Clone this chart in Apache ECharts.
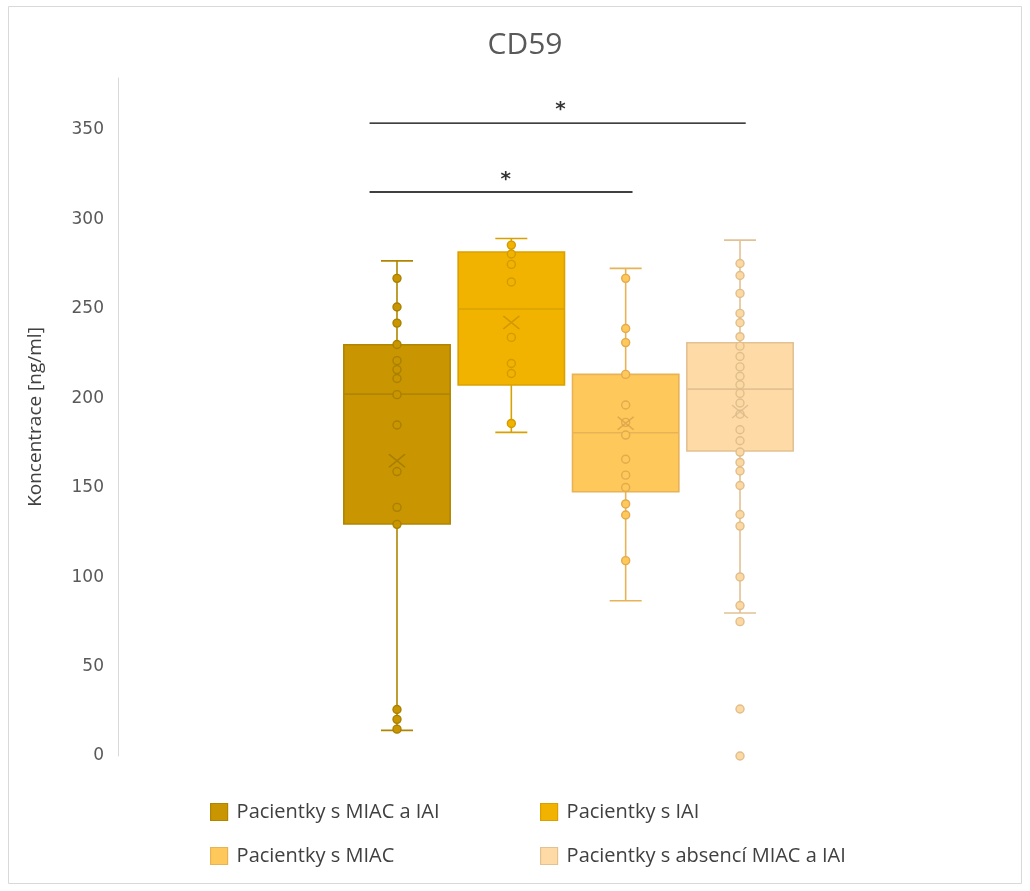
<!DOCTYPE html>
<html>
<head>
<meta charset="utf-8">
<title>CD59</title>
<script src="https://cdn.jsdelivr.net/npm/echarts@6/dist/echarts.min.js"></script>
<style>
  html, body { margin: 0; padding: 0; background: #ffffff; }
  #chart { width: 1030px; height: 891px; }
</style>
</head>
<body>
<div id="chart"></div>
<script>
// Patient groups (one box per group)
const groups = [
  'Pacientky s MIAC a IAI',
  'Pacientky s IAI',
  'Pacientky s MIAC',
  'Pacientky s absencí MIAC a IAI'
];

// Box statistics per group: [lower whisker, Q1, median, Q3, upper whisker]
const statsMiacIai   = [14.3, 129.7, 202.3, 229.9, 276.8];
const statsIai       = [180.9, 207.4, 249.9, 281.7, 289.3];
const statsMiac      = [86.8, 147.7, 180.7, 213.3, 272.6];
const statsAbsence   = [79.9, 170.5, 205.1, 231.0, 288.4];

// Group means (drawn as ×)
const means = [165, 242.3, 186, 192.5];

// Individual measurements per group [ng/ml]
const ptsMiacIai = [267, 251, 242, 230, 221, 216, 211, 202, 185, 159, 139, 129.5, 26, 20.5, 15];
const ptsIai     = [285.6, 280.6, 274.8, 265, 234, 219.4, 213.8, 185.9];
const ptsMiac    = [267, 239, 231.1, 213.3, 196.2, 186.5, 179.4, 165.9, 157, 150.1, 140.9, 134.7, 109.2];
const ptsAbsence = [275.3, 268.6, 258.6, 247.4, 242.2, 234.4, 229.1, 223.3, 217.5, 212.3, 207.5, 202.7,
                    197.3, 191.1, 182.4, 176.2, 169.9, 164.1, 159.3, 151.2, 135, 128.5, 100.1, 84.1,
                    75.1, 26.3, 0];

// Significance brackets: start/end along the group axis, height and label
const bracketFrom   = [-0.24, -0.24];
const bracketTo     = [3.05, 2.06];
const bracketLevel  = [353.8, 315.3];
const bracketStarX  = [1.43, 0.95];
const bracketStarY  = [361, 322];
const bracketLabels = ['*', '*'];

// Value axis ticks
const yMin = 0, yMax = 379, yStep = 50;

const allStats = [statsMiacIai, statsIai, statsMiac, statsAbsence];
const allPts = [ptsMiacIai, ptsIai, ptsMiac, ptsAbsence];

// Palette
const fills   = ['#C99500', '#F2B200', '#FFC85A', '#FEDBA6'];
const strokes = ['#B08500', '#D9A100', '#E8B257', '#E2C193'];
const ptFills = ['#C99500', '#F2B200', '#FFC85A', '#FCD9A2'];
const ptLines = ['#A98000', '#D29B00', '#E3AA4E', '#E0BE8C'];
const xColors = ['#9E7800', '#C99100', '#D8A24C', '#D9B789'];

const BOX_FRAC = 0.93;   // box width as a share of one group step
const CAP_FRAC = 0.28;   // whisker cap width

const series = [];

allStats.forEach((st, k) => {
  series.push({
    name: groups[k],
    type: 'custom',
    z: 2,
    itemStyle: { color: fills[k], borderColor: strokes[k] },
    encode: { x: 0, y: [1, 2, 3, 4, 5] },
    data: [[k].concat(st)],
    renderItem: (params, api) => {
      const x = api.value(0);
      const lo = api.value(1), q1 = api.value(2), med = api.value(3), q3 = api.value(4), hi = api.value(5);
      const unit = api.size([1, 0])[0];
      const bw = unit * BOX_FRAC, cw = unit * CAP_FRAC;
      const pLo = api.coord([x, lo]), pQ1 = api.coord([x, q1]), pMed = api.coord([x, med]);
      const pQ3 = api.coord([x, q3]), pHi = api.coord([x, hi]);
      const cx = pMed[0];
      const lineStyle = { stroke: strokes[k], lineWidth: 1.6 };
      return {
        type: 'group',
        children: [
          { type: 'line', shape: { x1: cx, y1: pHi[1], x2: cx, y2: pQ3[1] }, style: lineStyle },
          { type: 'line', shape: { x1: cx, y1: pQ1[1], x2: cx, y2: pLo[1] }, style: lineStyle },
          { type: 'line', shape: { x1: cx - cw / 2, y1: pHi[1], x2: cx + cw / 2, y2: pHi[1] }, style: lineStyle },
          { type: 'line', shape: { x1: cx - cw / 2, y1: pLo[1], x2: cx + cw / 2, y2: pLo[1] }, style: lineStyle },
          { type: 'rect', shape: { x: cx - bw / 2, y: pQ3[1], width: bw, height: pQ1[1] - pQ3[1] },
            style: { fill: fills[k], stroke: strokes[k], lineWidth: 1.6 } },
          { type: 'line', shape: { x1: cx - bw / 2, y1: pMed[1], x2: cx + bw / 2, y2: pMed[1] }, style: lineStyle }
        ]
      };
    }
  });
});

allPts.forEach((pts, k) => {
  series.push({
    name: groups[k],
    type: 'scatter',
    z: 3,
    symbol: 'circle',
    symbolSize: 8,
    itemStyle: { color: ptFills[k], borderColor: ptLines[k], borderWidth: 1.4, opacity: 1 },
    emphasis: { disabled: true },
    data: pts.map(v => [k, v])
  });
});

means.forEach((m, k) => {
  series.push({
    name: groups[k],
    type: 'scatter',
    z: 4,
    symbol: 'path://M0,0L16,13M16,0L0,13',
    symbolSize: [16, 13],
    itemStyle: { color: 'transparent', borderColor: xColors[k], borderWidth: 1.5 },
    emphasis: { disabled: true },
    data: [[k, m]]
  });
});

// Significance brackets and stars
bracketLevel.forEach((lvl, i) => {
  series.push({
    type: 'line',
    z: 5,
    symbol: 'none',
    silent: true,
    lineStyle: { color: '#000000', width: 1.4 },
    data: [[bracketFrom[i], lvl], [bracketTo[i], lvl]]
  });
});
series.push({
  type: 'scatter',
  z: 5,
  silent: true,
  symbolSize: 0,
  label: {
    show: true,
    position: 'inside',
    formatter: p => bracketLabels[p.dataIndex],
    color: '#000000',
    fontSize: 20,
    fontWeight: 'bold',
    fontFamily: 'DejaVu Sans'
  },
  data: bracketStarX.map((x, i) => [x, bracketStarY[i]])
});

const legendText = {
  color: '#404040',
  fontSize: 20,
  fontFamily: 'Open Sans',
  padding: [0, 0, 0, 4]
};
const legendItem = k => ({
  name: groups[k],
  icon: 'rect',
  itemStyle: { color: fills[k], borderColor: strokes[k], borderWidth: 1.2 }
});

const chart = echarts.init(document.getElementById('chart'), null, { renderer: 'canvas' });
chart.setOption({
  backgroundColor: '#ffffff',
  animation: false,
  title: {
    text: 'CD59',
    left: 520,
    top: 25,
    textAlign: 'center',
    textStyle: { color: '#595959', fontSize: 30, fontWeight: 'normal', fontFamily: 'Open Sans' }
  },
  grid: { left: 118, right: 11, top: 78, bottom: 135, containLabel: false },
  xAxis: {
    type: 'value',
    min: -2.44,
    max: 5.44,
    show: false
  },
  yAxis: {
    type: 'value',
    min: yMin,
    max: yMax,
    interval: yStep,
    name: 'Koncentrace [ng/ml]',
    nameLocation: 'middle',
    nameRotate: 90,
    nameGap: 73,
    nameTextStyle: { color: '#404040', fontSize: 19, fontFamily: 'Open Sans' },
    axisLine: { show: true, onZero: false, lineStyle: { color: '#D9D9D9', width: 1 } },
    axisTick: { show: false },
    splitLine: { show: false },
    axisLabel: {
      margin: 14,
      padding: [6, 0, 0, 0],
      color: '#595959',
      fontSize: 17,
      fontFamily: 'DejaVu Sans',
      formatter: v => (v % yStep === 0 ? String(v) : '')
    }
  },
  legend: [
    {
      orient: 'vertical', left: 205, top: 797,
      itemWidth: 17, itemHeight: 17, itemGap: 24,
      selectedMode: false,
      textStyle: legendText,
      data: [legendItem(0), legendItem(2)]
    },
    {
      orient: 'vertical', left: 535, top: 797,
      itemWidth: 17, itemHeight: 17, itemGap: 24,
      selectedMode: false,
      textStyle: legendText,
      data: [legendItem(1), legendItem(3)]
    }
  ],
  graphic: [{
    type: 'rect',
    silent: true,
    shape: { x: 8.5, y: 6.5, width: 1013, height: 877 },
    style: { fill: 'none', stroke: '#D9D9D9', lineWidth: 1 }
  }],
  series: series
});
</script>
</body>
</html>
